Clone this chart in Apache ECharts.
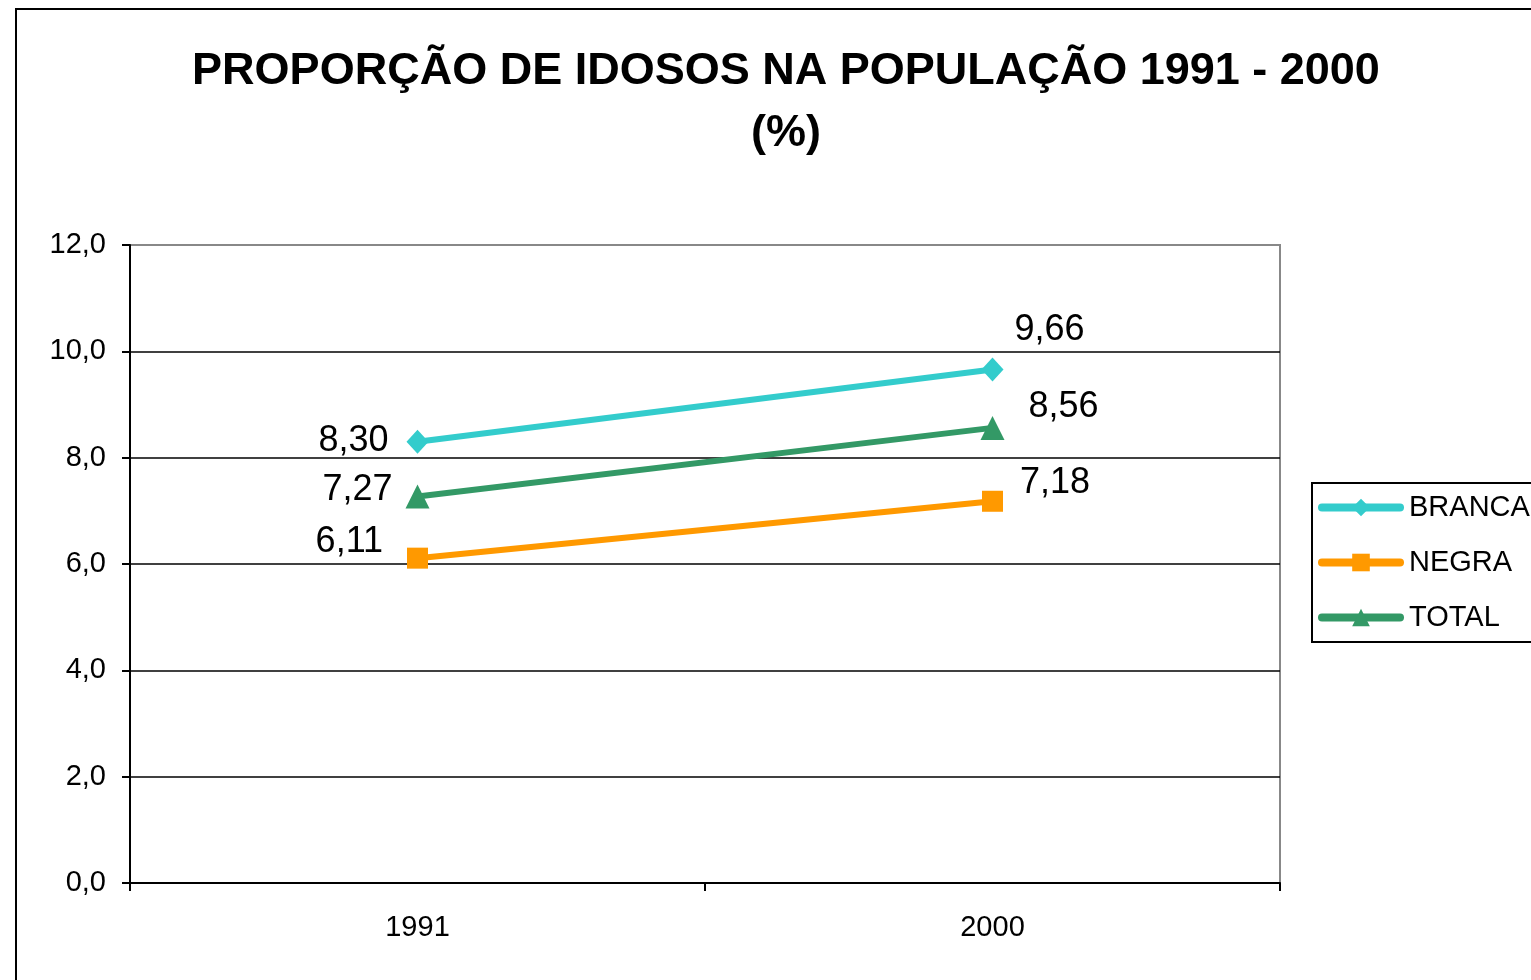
<!DOCTYPE html>
<html>
<head>
	<meta charset="utf-8">
	<title>Proporção de idosos na população</title>
	<script src="https://cdn.jsdelivr.net/npm/echarts@6/dist/echarts.min.js"></script>
	<style>
	  html, body{
		margin: 0;
		padding: 0;
		background: #fff;
	  }
	  #chart{
		width: 1531px;
		height: 980px;
	  }
	</style>
</head>
<body>
<div id="chart"></div>
<script>
	// dados do gráfico
	var anos = ['1991', '2000'];
	var branca = [8.30, 9.66];
	var negra = [6.11, 7.18];
	var total = [7.27, 8.56];
	var yTicks = [0, 2, 4, 6, 8, 10, 12];

	// deslocamento manual dos rótulos (como no Excel)
	var offsetBranca = [[0, -1], [0, -39]];
	var offsetNegra = [[0, -16], [0, -18]];
	var offsetTotal = [[0, -6], [0, -21]];
	var distBranca = [18, 11];
	var distNegra = [24, 17];
	var distTotal = [13, 24];

	function fmt(v, casas){
		return v.toFixed(casas).replace('.', ',');
	}

	function montaDados(valores, offsets, dists){
		return valores.map(function(v, i){
			return {
				value: v,
				label: {
					position: i == 0 ? 'left' : 'right',
					offset: offsets[i],
					distance: dists[i]
				}
			};
		});
	}

	function serie(nome, valores, cor, simbolo, tamanho, offsets, dists){
		return {
			name: nome,
			type: 'line',
			data: montaDados(valores, offsets, dists),
			symbol: simbolo,
			symbolSize: tamanho,
			lineStyle: { color: cor, width: 6 },
			itemStyle: { color: cor },
			label: {
				show: true,
				color: '#000',
				fontSize: 36,
				fontFamily: 'Liberation Sans, Arial, sans-serif',
				formatter: function(p){ return fmt(p.value, 2); }
			},
			z: 3
		};
	}

	var myChart = echarts.init(document.getElementById('chart'));

	var option = {
		animation: false,
		backgroundColor: '#fff',
		textStyle: { fontFamily: 'Liberation Sans, Arial, sans-serif' },
		title: {
			text: 'PROPORÇÃO DE IDOSOS NA POPULAÇÃO 1991 - 2000\n(%)',
			left: 781,
			top: 36,
			textAlign: 'center',
			textStyle: {
				fontSize: 45,
				fontWeight: 'bold',
				color: '#000',
				lineHeight: 62,
				fontFamily: 'Liberation Sans, Arial, sans-serif'
			}
		},
		graphic: [{
			type: 'rect',
			shape: { x: 16, y: 9, width: 1600, height: 1100 },
			style: { fill: 'none', stroke: '#000', lineWidth: 2 },
			silent: true
		}],
		legend: {
			orient: 'vertical',
			left: 1312,
			top: 483,
			padding: [10, 30, 10, 6],
			itemGap: 26,
			itemWidth: 78,
			itemHeight: 22,
			borderColor: '#000',
			borderWidth: 2,
			lineStyle: { width: 8, cap: 'round' },
			textStyle: {
				fontSize: 29,
				color: '#000',
				padding: [0, 0, 0, 4],
				fontFamily: 'Liberation Sans, Arial, sans-serif'
			},
			data: ['BRANCA', 'NEGRA', 'TOTAL']
		},
		grid: {
			left: 130,
			top: 245,
			right: 251,
			bottom: 97,
			show: true,
			borderColor: '#888',
			borderWidth: 2
		},
		xAxis: {
			type: 'category',
			data: anos,
			boundaryGap: true,
			axisLine: { lineStyle: { color: '#000', width: 2 } },
			axisTick: { show: true, length: 8, lineStyle: { color: '#000', width: 2 } },
			axisLabel: { color: '#000', fontSize: 29, margin: 30 },
			splitLine: { show: false }
		},
		yAxis: {
			type: 'value',
			min: yTicks[0],
			max: yTicks[yTicks.length - 1],
			interval: yTicks[1] - yTicks[0],
			axisLine: { show: true, lineStyle: { color: '#000', width: 2 } },
			axisTick: { show: true, length: 8, lineStyle: { color: '#000', width: 2 } },
			axisLabel: {
				color: '#000',
				fontSize: 29,
				margin: 24,
				formatter: function(v){ return fmt(v, 1); }
			},
			splitLine: {
				show: true,
				showMaxLine: false,
				lineStyle: { color: '#000', width: 1.5 }
			}
		},
		series: [
			serie('BRANCA', branca, '#33CCCC', 'diamond', [22, 24], offsetBranca, distBranca),
			serie('NEGRA', negra, '#FF9900', 'rect', 21, offsetNegra, distNegra),
			serie('TOTAL', total, '#339966', 'triangle', 24, offsetTotal, distTotal)
		]
	};

	myChart.setOption(option);
</script>
</body>
</html>
